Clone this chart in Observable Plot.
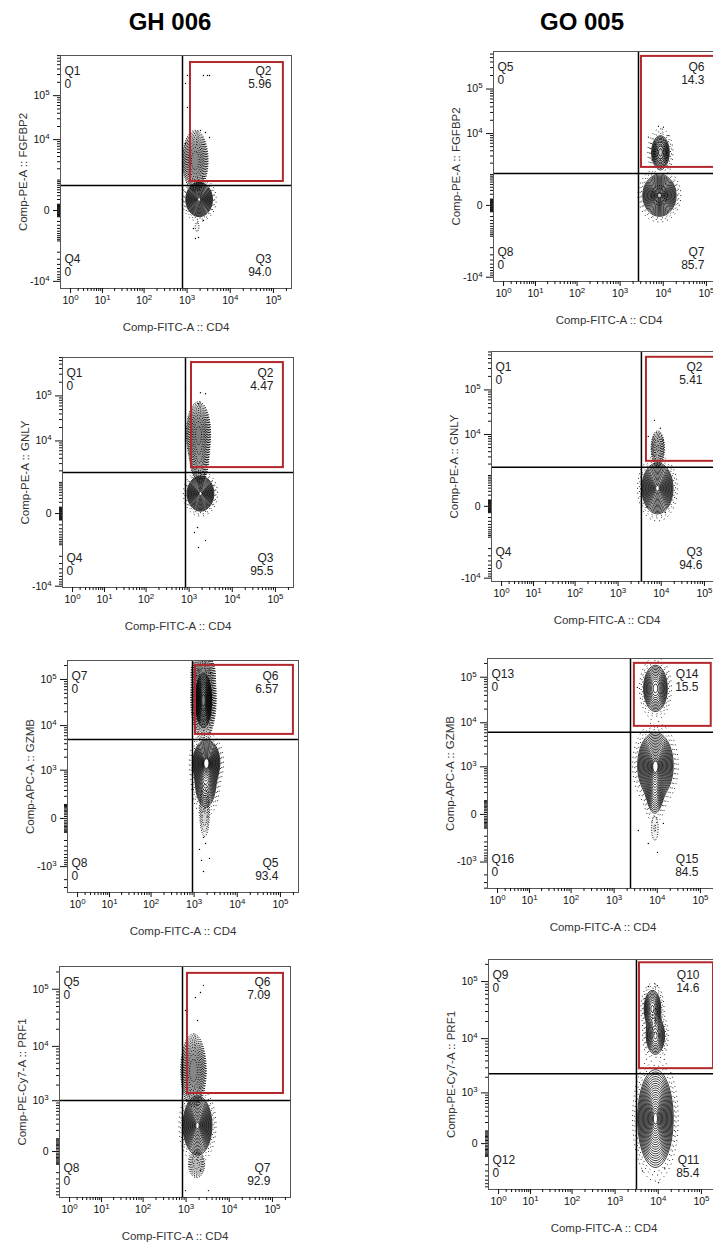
<!DOCTYPE html>
<html><head><meta charset="utf-8">
<script src="https://cdn.jsdelivr.net/npm/d3@7"></script>
<script src="https://cdn.jsdelivr.net/npm/@observablehq/plot@0.6"></script>
<style>
html,body{margin:0;padding:0;background:#fff;overflow:hidden}
#root{position:relative;width:713px;height:1243px;overflow:hidden;background:#fff}
.title{position:absolute;font:bold 24px "Liberation Sans",Arial,sans-serif;line-height:24px;color:#000;transform:translateX(-50%);white-space:nowrap}
.panel{position:absolute}
.panel svg{overflow:visible;max-width:none !important;display:block}
#err{position:absolute;left:10px;top:60px;font:12px monospace;color:red;white-space:pre}
</style></head>
<body><div id="root"></div>
<script>
// ---------------- data ----------------
const sampleNames = ["GH 006", "GO 005"];
const markers = ["FGFBP2", "GNLY", "GZMB", "PRF1"];
const yChannels = ["Comp-PE-A", "Comp-PE-A", "Comp-APC-A", "Comp-PE-Cy7-A"];
const xChannel = "Comp-FITC-A :: CD4";
const xTicks = [1, 10, 100, 1000, 10000, 100000];
const yTicksByRow = [[-1e4, 0, 1e4, 1e5], [-1e4, 0, 1e4, 1e5], [-1e3, 0, 1e3, 1e4, 1e5], [0, 1e3, 1e4, 1e5]];
const xDomain = [0.17, 262144];
// panels: GH rows 1-4, then GO rows 1-4
const yConstants = [260, 260, 100, 150, 260, 260, 100, 150];
const yDomains = [[-14600, 805000], [-10700, 700000], [-3880, 257000], [-796, 249000],
                  [-12500, 684000], [-11900, 716000], [-4070, 257000], [-796, 243000]];
const quadNames = [["Q1","Q2","Q3","Q4"], ["Q1","Q2","Q3","Q4"], ["Q7","Q6","Q5","Q8"], ["Q5","Q6","Q7","Q8"],
                   ["Q5","Q6","Q7","Q8"], ["Q1","Q2","Q3","Q4"], ["Q13","Q14","Q15","Q16"], ["Q9","Q10","Q11","Q12"]];
// [upper-left, upper-right, lower-right, lower-left] percentages
const quadPct = [[0, 5.96, 94.0, 0], [0, 4.47, 95.5, 0], [0, 6.57, 93.4, 0], [0, 7.09, 92.9, 0],
                 [0, 14.3, 85.7, 0], [0, 5.41, 94.6, 0], [0, 15.5, 84.5, 0], [0, 14.6, 85.4, 0]];
const gateX = [782, 825, 918, 825, 2667, 3470, 2400, 3126];
const gateY = [690, 1810, 4980, 1010, 1077, 1654, 6130, 2337];
const boxX1 = [1198, 1136, 1076, 1076, 3126, 4540, 2950, 3670];
const boxX2 = [170000, 153000, 200000, 180000, 190000, 190000, 178000, 190000];
const boxY1 = [910, 2405, 6420, 1386, 1557, 2340, 8330, 2890];
const boxY2 = [559000, 542000, 201700, 189000, 532000, 532000, 201000, 213000];
// populations drawn as contour rings: [centre CD4, centre marker, spread (decades), spread (decades), peak]
const contourPops = [
  [[1900, 200, 0.12, 0.15, 1]],
  [[1836, 455, 0.12, 0.15, 1]],
  [[1936, 1520, 0.12, 0.19, 1], [1850, 500, 0.11, 0.25, 0.35], [1650, 35300, 0.08, 0.25, 0.6]],
  [[1836, 276, 0.13, 0.2, 1]],
  [[8166, 174, 0.15, 0.18, 1], [8600, 3656, 0.1, 0.18, 0.3]],
  [[8166, 393, 0.14, 0.22, 1]],
  [[9080, 1080, 0.16, 0.28, 1], [8800, 250, 0.09, 0.25, 0.3], [9080, 57000, 0.12, 0.22, 0.5]],
  [[8600, 260, 0.16, 0.33, 1], [7340, 33600, 0.09, 0.15, 0.35], [8600, 11300, 0.1, 0.15, 0.35]]
];
// populations drawn as scattered events
const cloudPops = [
  [[1550, 3200, 0.13, 0.30, 0.6], [1700, -350, 0.1, 0.22, 0.05]],
  [[1650, 14600, 0.12, 0.3, 0.7], [1750, 3500, 0.1, 0.25, 0.3], [1700, -500, 0.1, 0.2, 0.04]],
  [[1650, 40000, 0.13, 0.4, 0.6], [1750, 50, 0.09, 0.45, 0.1], [1600, 150000, 0.12, 0.15, 0.35]],
  [[1483, 3720, 0.13, 0.28, 0.6], [1750, -100, 0.12, 0.15, 0.15]],
  [[8600, 3656, 0.12, 0.25, 0.12], [8166, 174, 0.17, 0.2, 0.08]],
  [[8300, 4800, 0.08, 0.2, 0.3]],
  [[8800, -100, 0.1, 0.35, 0.06]],
  [[8600, 20000, 0.11, 0.3, 0.06]]
];
const outliers = [
  [[1021,285000],[1199,290000],[2398,285000],[2965,285000],[3300,285000],[918,188000],[1021,54000],[2666,14600],[2042,16200],[3300,11200],[918,8100],[1406,-400],[1836,-795],[1563,-851],[2398,-177]],
  [[1076,145000],[1836,118000],[2398,112000],[1650,67000],[1563,-268],[2398,-760],[1650,-1190],[1334,-420]],
  [[1483,-707],[1650,-1296],[2272,-631],[1334,-367],[1836,-247],[1650,-157],[1300,160000],[2400,140000],[1800,200000]],
  [[2528,117000],[2154,88000],[1650,72000],[967,42600],[1836,28500],[967,-568],[3300,-568],[2154,-171]],
  [[7740,14600],[10100,14000],[4540,8300],[13000,9000],[5500,2400]],
  [[6960,20900],[9500,13900],[11000,7500],[12300,-93],[4700,-10],[5000,9000]],
  [[10100,-577],[6200,-331],[3650,-124],[13900,-57],[3450,60000],[11800,164000]],
  [[10100,-568],[9500,85000],[5900,82000],[4300,-300],[14000,-250]]
];

// ---------------- layout ----------------
const frameLeft = [60, 62, 67, 59, 493, 491, 487, 488];
const frameTop = [55, 357, 660, 966, 51, 351, 658, 959];
const frameHeight = [233, 230, 232, 231, 230, 230, 230, 230];
const frameWidth = 231;
const titleX = [170, 582];
const M = {l: 62, t: 10, r: 12, b: 52};
const FONT = '"Liberation Sans", Arial, Helvetica, sans-serif';

// ---------------- helpers ----------------
const tr = (v, C) => Math.sign(v) * Math.log10(1 + Math.abs(v) / C);
function density(list, C) {
  const P = list.map(([cx, cy, sx, sy, w]) => [Math.log10(1 + cx), tr(cy, C), sx, sy, w]);
  return (x, y) => {
    const lx = Math.log10(1 + Math.max(0, x)), ty = tr(y, C);
    let s = 0;
    for (const [a, b, sx, sy, w] of P) {
      const u = (lx - a) / sx, v = (ty - b) / sy;
      s += w * Math.exp(-0.5 * (u * u + v * v));
    }
    return Math.log(s + 1e-300);
  };
}
const ringT = d3.range(0.3, 2.62, 0.12).map(r => -r * r / 2).sort((a, b) => a - b);
const haloT = [3.3, 3.0, 2.8].map(r => -r * r / 2);
const cloudT = d3.range(-3.1, -0.2, 0.26);
function logTicks(lo, hi, kmin) {
  const out = [];
  for (let k = kmin; k <= 6; k++) for (let m = 1; m <= 9; m++) {
    const v = m * 10 ** k;
    if (v >= lo && v <= hi) out.push(v);
    if (-v >= lo && -v <= hi) out.push(-v);
  }
  return out;
}
const fmtTick = d => d === 0 ? "0" : (d < 0 ? "-" : "") + "10^" + Math.round(Math.log10(Math.abs(d)));
const fmtPct = v => v === 0 ? "0" : d3.format(".3r")(v);
const NS = "http://www.w3.org/2000/svg";
function supify(svg) {
  svg.querySelectorAll("text").forEach(t => {
    const m = t.textContent.match(/^(-?10)\^(\d)$/);
    if (!m) return;
    t.textContent = "";
    const a = document.createElementNS(NS, "tspan");
    a.textContent = m[1];
    const b = document.createElementNS(NS, "tspan");
    b.textContent = m[2];
    b.setAttribute("dy", "-0.5em");
    b.setAttribute("font-size", "0.75em");
    t.append(a, b);
  });
}

// ---------------- draw ----------------
const root = document.getElementById("root");
const errs = [];
sampleNames.forEach((s, c) => {
  const d = document.createElement("div");
  d.className = "title"; d.textContent = s;
  d.style.left = titleX[c] + "px"; d.style.top = "10px";
  root.appendChild(d);
});

for (let i = 0; i < 8; i++) {
  const row = i % 4;
  const C = yConstants[i];
  const qn = quadNames[i], qp = quadPct[i];
  const box = [{x1: boxX1[i], x2: boxX2[i], y1: boxY1[i], y2: boxY2[i]}];
  const yMajor = yTicksByRow[row];
  const yMinor = logTicks(yDomains[i][0], yDomains[i][1], 1).filter(v => !yMajor.includes(v));
  const xMinor = logTicks(xDomain[0], xDomain[1], 0).filter(v => !xTicks.includes(v));
  const q = {fontSize: 12, fill: "#222", lineAnchor: "top", text: d => d};
  const bounds = {x1: xDomain[0], x2: xDomain[1], y1: yDomains[i][0], y2: yDomains[i][1]};
  const cloudF = density(cloudPops[i], C), popF = density(contourPops[i], C);
  const marks = [
    Plot.contour({value: cloudF, ...bounds, thresholds: cloudT, fill: "#000", fillOpacity: 0.06, stroke: "none", clip: true, pixelSize: 1}),
    Plot.contour({value: cloudF, ...bounds, thresholds: cloudT, fill: "none", stroke: "#000",
        strokeWidth: 1, strokeDasharray: "0.9 1.6", clip: true, pixelSize: 1}),
    Plot.contour({value: popF, ...bounds, thresholds: haloT, fill: "none", stroke: "#111",
        strokeWidth: 1, strokeDasharray: "0.9 4", clip: true, pixelSize: 1}),
    Plot.contour({value: popF, ...bounds, thresholds: ringT, fill: "none", stroke: "#000",
        strokeWidth: 0.75, clip: true, pixelSize: 1}),
    Plot.dot(outliers[i], {x: d => d[0], y: d => d[1], r: 0.7, fill: "#000", stroke: "none", clip: true}),
    Plot.ruleX([gateX[i]], {stroke: "#000", strokeWidth: 1.5}),
    Plot.ruleY([gateY[i]], {stroke: "#000", strokeWidth: 1.5}),
    Plot.rect(box, {x1: "x1", x2: "x2", y1: "y1", y2: "y2", fill: "none", stroke: "#b3282d", strokeWidth: 2, clip: true}),
    Plot.frame({stroke: "#555", strokeWidth: 1}),
    Plot.axisX(xMinor, {tickSize: 3, tickFormat: () => "", label: null}),
    Plot.axisX(xTicks, {tickSize: 5, tickPadding: 3, tickFormat: fmtTick, label: null, fontSize: 10.5}),
    Plot.axisY(yMinor, {tickSize: 3, tickFormat: () => "", label: null}),
    Plot.axisY(yMajor, {tickSize: 7, tickPadding: 4, tickFormat: fmtTick, label: null, fontSize: 10.5}),
    Plot.text([qn[0]], {...q, frameAnchor: "top-left", textAnchor: "start", dx: 4, dy: 11}),
    Plot.text([fmtPct(qp[0])], {...q, frameAnchor: "top-left", textAnchor: "start", dx: 4, dy: 24}),
    Plot.text([qn[1]], {...q, frameAnchor: "top-right", textAnchor: "end", dx: -20, dy: 11}),
    Plot.text([fmtPct(qp[1])], {...q, frameAnchor: "top-right", textAnchor: "end", dx: -20, dy: 24}),
    Plot.text([qn[2]], {...q, frameAnchor: "bottom-right", textAnchor: "end", dx: -20, dy: -34}),
    Plot.text([fmtPct(qp[2])], {...q, frameAnchor: "bottom-right", textAnchor: "end", dx: -20, dy: -21}),
    Plot.text([qn[3]], {...q, frameAnchor: "bottom-left", textAnchor: "start", dx: 4, dy: -34}),
    Plot.text([fmtPct(qp[3])], {...q, frameAnchor: "bottom-left", textAnchor: "start", dx: 4, dy: -21}),
    Plot.text([`${yChannels[row]} :: ${markers[row]}`], {frameAnchor: "left", dx: -37, rotate: -90, textAnchor: "middle",
        lineAnchor: "middle", fontSize: 11.5, fill: "#333", text: d => d}),
    Plot.text([xChannel], {frameAnchor: "bottom", dy: 39, textAnchor: "middle", lineAnchor: "middle",
        fontSize: 11.5, fill: "#333", text: d => d})
  ];
  let svg;
  try {
    svg = Plot.plot({
      width: frameWidth + M.l + M.r, height: frameHeight[i] + M.t + M.b,
      marginLeft: M.l, marginTop: M.t, marginRight: M.r, marginBottom: M.b,
      style: {fontFamily: FONT, fontSize: "10.5px", color: "#111", background: "transparent"},
      x: {type: "symlog", constant: 1, domain: xDomain},
      y: {type: "symlog", constant: C, domain: yDomains[i]},
      marks
    });
  } catch (e) { errs.push("panel " + i + ": " + e.message); continue; }
  const wrap = document.createElement("div");
  wrap.className = "panel";
  wrap.style.left = (frameLeft[i] - M.l) + "px";
  wrap.style.top = (frameTop[i] - M.t) + "px";
  wrap.style.width = (frameWidth + M.l + M.r) + "px";
  wrap.appendChild(svg);
  root.appendChild(wrap);
  supify(svg);
}
if (errs.length) {
  const e = document.createElement("div"); e.id = "err"; e.textContent = errs.join("\n"); root.appendChild(e);
}
</script>
</body></html>
